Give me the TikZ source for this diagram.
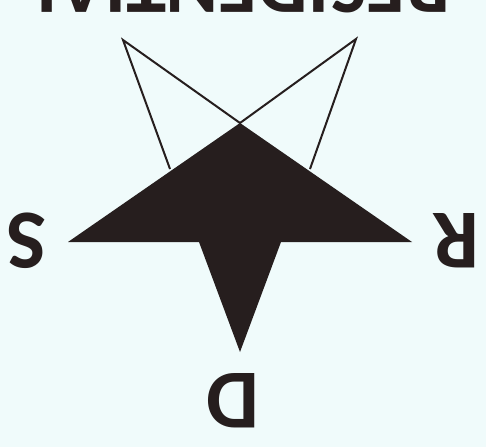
\documentclass[tikz,border=0pt]{standalone}
\usepackage{fontspec}
\setmainfont{Carlito}
\definecolor{bg}{RGB}{240,251,251}
\definecolor{ink}{RGB}{38,30,30}
\begin{document}
\begin{tikzpicture}[x=1pt,y=-1pt,
  letter/.style={rotate=180,inner sep=0,text=ink,font=\fontsize{84}{84}\selectfont\bfseries},
  outline/.style={draw=ink,line width=2pt,line join=miter}]
\useasboundingbox (0,0) rectangle (486,447);
\fill[bg] (0,0) rectangle (486,447);
% star points
\coordinate (UL) at (123,40);
\coordinate (UR) at (356,39);
\coordinate (L) at (68,242);
\coordinate (R) at (412,242);
\coordinate (B) at (240,352);
\coordinate (T) at (240,123);
\coordinate (BL) at (199,242);
\coordinate (BR) at (281,242);
\coordinate (IL) at (170,169);
\coordinate (IR) at (310,169);
\fill[ink] (L) -- (T) -- (R) -- (BR) -- (B) -- (BL) -- cycle;
\draw[outline] (IL) -- (UL) -- (T) -- (UR) -- (IR);
\node[letter] (s) at (27,241) {S};
\node[letter] (r) at (456,241) {R};
\node[letter] (d) at (233,401) {D};
\node[letter,anchor=north,font=\fontsize{80}{80}\selectfont\bfseries] (title) at (237,13) {RESIDENTIAL};
\end{tikzpicture}
\end{document}
